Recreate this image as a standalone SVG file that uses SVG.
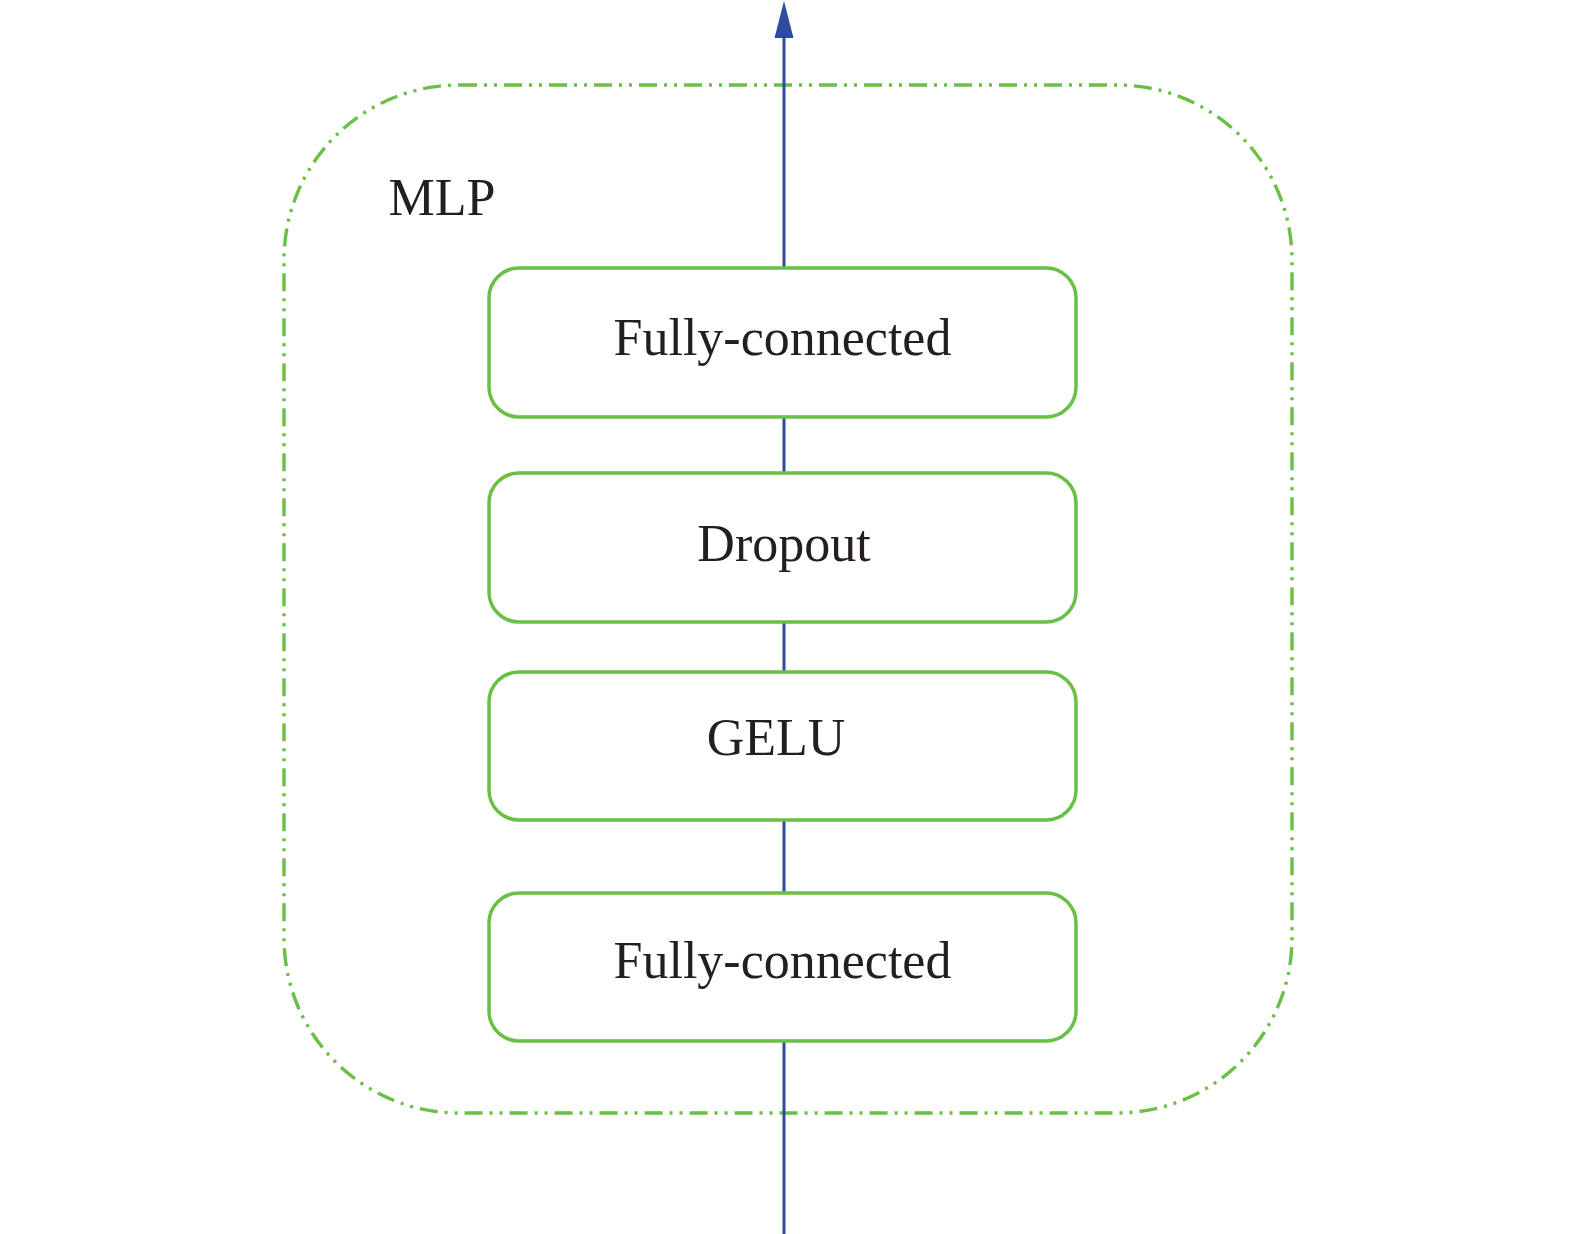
<svg xmlns="http://www.w3.org/2000/svg" width="1575" height="1234" viewBox="0 0 1575 1234">
<defs>
<style>
.box{fill:#ffffff;stroke:#6abf45;stroke-width:3.5}
.outer{fill:none;stroke:#6abf45;stroke-width:3.4;stroke-dasharray:18 7 3 7 3 7}
.lbl{font-family:"Liberation Serif","Times New Roman",serif;font-size:52px;fill:#231f20;text-anchor:middle}
.conn{stroke:#2e4c9f;stroke-width:3;fill:none}
.head{fill:#2e4c9f}
</style>
</defs>
<rect width="1575" height="1234" fill="#ffffff"/>
<g id="mlp">
<rect class="outer" x="284" y="85" width="1008" height="1028" rx="175" ry="175"/>
<text class="lbl" x="442" y="215">MLP</text>
</g>
<g id="connectors">
<line class="conn" x1="784" y1="1234" x2="784" y2="1041"/>
<line class="conn" x1="784" y1="893" x2="784" y2="820"/>
<line class="conn" x1="784" y1="672" x2="784" y2="622"/>
<line class="conn" x1="784" y1="473" x2="784" y2="417"/>
<line class="conn" x1="784" y1="268" x2="784" y2="34"/>
<polygon class="head" points="774.5,38 784,1 793.5,38"/>
</g>
<g id="fc1">
<rect class="box" x="489" y="268" width="587" height="149" rx="30" ry="30"/>
<text class="lbl" x="782.5" y="355">Fully-connected</text>
</g>
<g id="dropout">
<rect class="box" x="489" y="473" width="587" height="149" rx="30" ry="30"/>
<text class="lbl" x="784" y="561">Dropout</text>
</g>
<g id="gelu">
<rect class="box" x="489" y="672" width="587" height="148" rx="30" ry="30"/>
<text class="lbl" x="776" y="755">GELU</text>
</g>
<g id="fc2">
<rect class="box" x="489" y="893" width="587" height="148" rx="30" ry="30"/>
<text class="lbl" x="782.5" y="978">Fully-connected</text>
</g>
</svg>
